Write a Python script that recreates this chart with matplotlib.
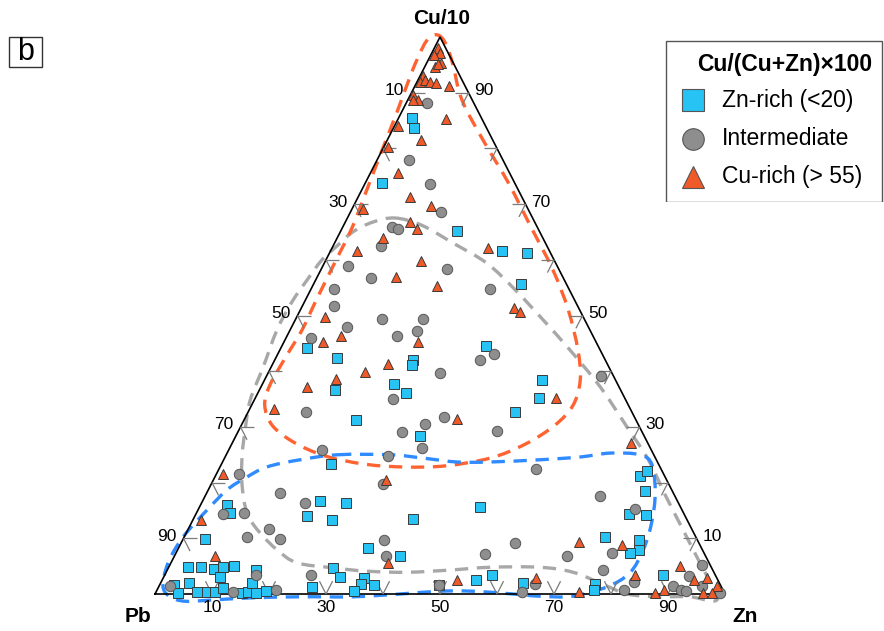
import numpy as np
import matplotlib
matplotlib.use("Agg")
import matplotlib.pyplot as plt
from matplotlib.path import Path
from matplotlib.patches import PathPatch, Rectangle
from matplotlib.collections import LineCollection

plt.rcParams['font.family'] = ['Liberation Sans', 'DejaVu Sans']

# ---------------------------------------------------------------
# Compositions in % : Cu/10 and Zn (Pb is the balance to 100 %)
# ---------------------------------------------------------------
znrich_cu = [85.5, 83.7, 73.8, 65.2, 61.5, 61.2, 55.6, 44.2, 42.3, 42.0,
             41.2, 44.5, 38.4, 35.2, 36.6, 37.7, 36.0, 31.2, 28.4, 32.6,
             23.3, 16.7, 16.3, 15.9, 14.5, 14.0, 13.2, 9.8, 4.8, 4.8,
             4.4, 4.9, 5.0, 3.1, 4.3, 4.6, 3.0, 1.6, 0.1, 2.0,
             0.4, 0.4, 0.4, 1.0, 0.2, 0.4, 1.9, 0.2, 0.6, 1.2,
             15.6, 13.4, 8.2, 6.9, 2.8, 1.8, 1.6, 0.6, 1.6, 2.6,
             3.4, 2.0, 21.2, 22.0, 18.5, 14.4, 14.1, 10.2, 9.7, 7.9,
             7.3, 3.4, 1.8, 0.8]
znrich_zn = [2.4, 3.6, 2.9, 20.3, 30.2, 34.6, 36.4, 4.5, 10.7, 24.2,
             24.4, 35.9, 48.7, 49.7, 13.3, 23.0, 26.0, 19.6, 32.3, 46.8,
             19.2, 20.6, 25.3, 4.7, 5.9, 19.6, 24.4, 3.9, 3.4, 5.7,
             8.1, 9.4, 11.4, 9.9, 15.6, 28.9, 30.9, 2.5, 4.0, 5.0,
             7.1, 9.0, 10.3, 11.4, 15.1, 16.2, 16.0, 17.7, 19.2, 26.9,
             49.2, 38.5, 33.3, 39.5, 35.3, 35.2, 37.7, 34.6, 49.1, 55.1,
             57.4, 63.5, 74.5, 75.3, 76.7, 76.0, 79.1, 73.9, 80.1, 81.0,
             79.6, 87.4, 76.3, 76.6]

inter_cu = [88.1, 77.9, 73.6, 68.5, 65.9, 65.5, 62.5, 58.8, 58.3, 56.7,
            54.8, 51.7, 49.3, 49.3, 47.9, 46.3, 47.2, 46.0, 39.6, 54.8,
            42.1, 43.0, 39.1, 35.0, 32.7, 29.1, 30.5, 26.2, 25.8, 24.8,
            31.8, 29.3, 21.5, 18.2, 16.4, 14.4, 14.6, 10.3, 11.6, 9.8,
            3.4, 3.4, 1.4, 0.4, 0.8, 22.4, 19.7, 9.7, 6.9, 9.1,
            7.1, 1.6, 1.8, 0.4, 17.6, 15.2, 6.8, 7.3, 4.3, 5.2,
            3.2, 1.5, 1.5, 0.7, 0.6, 0.7, 0.2, 2.2]
inter_zn = [3.6, 5.6, 11.5, 16.0, 8.6, 9.9, 8.4, 4.4, 22.0, 9.5,
            4.0, 5.6, 15.1, 22.4, 9.8, 19.3, 22.4, 4.4, 30.2, 31.3,
            35.9, 37.9, 58.7, 24.2, 10.1, 28.7, 32.1, 33.7, 16.4, 28.5,
            34.8, 45.3, 4.0, 12.8, 18.1, 4.7, 8.4, 11.0, 14.2, 17.0,
            16.1, 25.6, 1.9, 13.5, 20.8, 55.6, 30.2, 35.4, 37.1, 58.6,
            54.3, 49.1, 65.8, 64.1, 69.2, 76.6, 68.8, 76.6, 76.5, 93.4,
            92.1, 95.3, 90.2, 92.0, 92.8, 81.9, 99.0, 83.0]

curich_cu = [98.0, 97.1, 96.8, 95.3, 94.7, 95.2, 93.0, 92.0, 92.2, 92.0,
             91.7, 91.2, 89.6, 88.7, 88.7, 85.2, 84.0, 81.5, 80.2, 75.5,
             71.3, 69.7, 69.1, 66.8, 65.5, 63.9, 61.5, 59.7, 56.9, 55.3,
             49.8, 46.3, 45.2, 45.2, 41.3, 39.9, 38.6, 37.2, 33.3, 62.2,
             51.4, 50.7, 35.2, 31.4, 27.1, 21.5, 13.3, 6.9, 20.5, 5.6,
             2.6, 2.8, 9.4, 8.8, 5.1, 3.4, 2.6, 2.8, 1.5, 0.4,
             0.2, 0.8, 0.1, 0.2]
curich_zn = [0.6, 1.5, 0.6, 2.5, 1.8, 2.1, 0.5, 0.5, 1.2, 2.3,
             3.5, 6.0, 0.5, 1.8, 1.0, 8.5, 0.6, 5.9, 0.8, 4.8,
             9.0, 13.5, 2.0, 11.4, 13.2, 8.0, 4.7, 16.8, 13.8, 21.9,
             5.0, 9.4, 6.8, 23.5, 20.3, 16.9, 12.4, 8.1, 4.3, 27.4,
             37.3, 38.6, 52.7, 37.3, 70.0, 1.1, 1.4, 7.1, 30.3, 38.1,
             51.7, 65.4, 69.7, 77.5, 89.6, 82.5, 93.3, 95.4, 97.8, 74.1,
             87.6, 88.9, 96.1, 97.6]

# Hand-drawn compositional fields (closed outlines, Cu/10 and Zn in %)
curich_field_cu = [100.4, 99.1, 95.5, 88.7, 81.5, 74.0, 66.2, 58.2, 51.0, 43.8,
                   38.4, 33.9, 30.3, 26.9, 24.4, 23.0, 22.8, 23.3, 24.8, 27.3,
                   30.3, 33.9, 37.5, 42.9, 47.4, 52.8, 59.6, 65.7, 71.6, 78.8,
                   86.5, 93.7, 98.2, 99.8]
curich_field_zn = [-0.7, 1.3, 4.4, 9.5, 16.8, 24.9, 32.7, 40.7, 47.0, 52.3,
                   55.4, 56.4, 55.0, 51.5, 46.6, 39.4, 32.5, 25.2, 17.4, 10.6,
                   5.4, 2.3, 1.4, 1.7, 2.1, 1.9, 1.8, 1.7, 1.0, 0.1,
                   -0.8, -1.8, -2.1, -1.8]

znrich_field_cu = [25.0, 25.0, 24.4, 23.7, 23.7, 24.1, 24.6, 25.3, 25.0, 23.2,
                   18.1, 12.9, 7.9, 3.8, 1.3, -0.4, -0.4, 0.0, 0.5, 0.5,
                   0.0, -0.5, -0.5, -0.7, -1.1, -1.3, -0.5, 1.4, 5.6, 10.2,
                   15.1, 18.7, 20.8, 22.8, 24.1]
znrich_field_zn = [19.6, 28.8, 34.8, 41.1, 46.9, 55.5, 62.3, 67.2, 72.6, 75.6,
                   78.7, 80.7, 81.7, 81.4, 78.7, 73.5, 67.7, 62.8, 55.5, 49.7,
                   43.0, 35.0, 25.7, 17.0, 10.2, 5.9, 2.9, 0.7, -0.5, -0.2,
                   1.6, 3.3, 5.4, 8.2, 13.4]

inter_field_cu = [67.5, 66.2, 63.0, 59.4, 54.6, 49.2, 43.8, 37.2, 30.0, 24.1,
                  17.8, 11.5, 5.6, 1.6, -0.5, -1.3, -0.5, -0.5, 0.0, 1.6,
                  3.9, 4.8, 4.8, 4.3, 3.9, 4.1, 4.7, 5.6, 7.9, 11.0,
                  14.5, 19.9, 25.0, 29.4, 34.8, 40.8, 47.4, 52.4, 56.4, 60.0,
                  62.5, 65.0, 66.8]
inter_field_zn = [8.4, 13.7, 20.8, 28.5, 35.9, 43.5, 50.9, 59.5, 67.8, 74.5,
                  80.6, 86.9, 92.8, 96.9, 99.0, 98.4, 94.1, 88.3, 82.8, 78.1,
                  71.4, 65.1, 56.4, 49.6, 42.2, 35.1, 28.9, 22.1, 17.5, 12.9,
                  8.9, 5.3, 2.8, 1.1, -0.7, -1.4, -2.3, -2.2, -1.5, -0.7,
                  0.7, 2.2, 4.9]

tick_values = [10, 20, 30, 40, 50, 60, 70, 80, 90]
label_values = [10, 30, 50, 70, 90]

C_ZN = '#27C3F4'
C_INT = '#8E8E8E'
C_CU = '#F05A28'
C_EDGE = '#3A3A3A'
C_CU_LINE = '#FF6331'
C_ZN_LINE = '#2F8BFF'
C_INT_LINE = '#A8A8A8'


def to_xy(cu, zn):
    """Ternary (Cu/10, Zn) percentages -> plane coordinates (apex Cu/10 at top)."""
    cu = np.asarray(cu, float) / 100.0
    zn = np.asarray(zn, float) / 100.0
    return zn + cu / 2.0, cu


def closed_smooth_path(cu, zn):
    x, y = to_xy(cu, zn)
    P = np.column_stack([x, y])
    n = len(P)
    verts = [P[0]]
    codes = [Path.MOVETO]
    for i in range(n):
        p0, p1, p2, p3 = P[i - 1], P[i], P[(i + 1) % n], P[(i + 2) % n]
        verts += [p1 + (p2 - p0) / 6.0, p2 - (p3 - p1) / 6.0, p2]
        codes += [Path.CURVE4] * 3
    return Path(verts, codes)


fig = plt.figure(figsize=(8.84, 6.31), dpi=100)
ax = fig.add_axes([0, 0, 1, 1])
ax.set_xlim(-155 / 570, 729 / 570)
ax.set_ylim(-37 / 557, 594 / 557)
ax.axis('off')

# triangle frame
ax.plot([0, 1, 0.5, 0], [0, 0, 1, 0], color='black', lw=1.2,
        solid_joinstyle='miter', zorder=3)

# inward ticks on each side, parallel to the two other sides
L = 0.023
segs = []
for v in tick_values:
    t = v / 100.0
    # bottom side (Zn)
    bx, by = t, 0.0
    segs.append([(bx, by), (bx + L / 2, by + L)])
    segs.append([(bx, by), (bx - L / 2, by + L)])
    # left side (Pb)
    lx, ly = (1 - t) / 2.0, 1 - t
    segs.append([(lx, ly), (lx + L, ly)])
    segs.append([(lx, ly), (lx + L / 2, ly - L)])
    # right side (Cu/10)
    rx, ry = 1 - t / 2.0, t
    segs.append([(rx, ry), (rx - L, ry)])
    segs.append([(rx, ry), (rx - L / 2, ry - L)])
ax.add_collection(LineCollection(segs, colors='#7a7a7a', linewidths=0.9, zorder=3))

# tick labels
TFS = 12.5
for v in label_values:
    t = v / 100.0
    ax.annotate(str(v), xy=(t, 0), xytext=(0, -13), textcoords='offset pixels',
                ha='center', va='center', fontsize=TFS)
    ax.annotate(str(v), xy=((1 - t) / 2.0, 1 - t), xytext=(-7, 2),
                textcoords='offset pixels', ha='right', va='center', fontsize=TFS)
    ax.annotate(str(v), xy=(1 - t / 2.0, t), xytext=(6, 2),
                textcoords='offset pixels', ha='left', va='center', fontsize=TFS)

# apex labels
ax.annotate('Cu/10', xy=(0.5, 1), xytext=(2, 19), textcoords='offset pixels',
            ha='center', va='center', fontsize=15, fontweight='bold')
ax.annotate('Pb', xy=(0, 0), xytext=(-17, -22), textcoords='offset pixels',
            ha='center', va='center', fontsize=15, fontweight='bold')
ax.annotate('Zn', xy=(1, 0), xytext=(20, -22), textcoords='offset pixels',
            ha='center', va='center', fontsize=15, fontweight='bold')

# compositional fields
dash = (0, (4.0, 2.6))
for fcu, fzn, col in [(inter_field_cu, inter_field_zn, C_INT_LINE),
                      (curich_field_cu, curich_field_zn, C_CU_LINE),
                      (znrich_field_cu, znrich_field_zn, C_ZN_LINE)]:
    ax.add_patch(PathPatch(closed_smooth_path(fcu, fzn), fill=False, edgecolor=col,
                           lw=2.4, linestyle=dash, capstyle='butt', zorder=2))

# analyses
ms = 7.2
x, y = to_xy(znrich_cu, znrich_zn)
ax.plot(x, y, 's', ms=ms, mfc=C_ZN, mec=C_EDGE, mew=0.7, zorder=4)
x, y = to_xy(inter_cu, inter_zn)
ax.plot(x, y, 'o', ms=ms + 0.3, mfc=C_INT, mec='#555555', mew=0.7, zorder=4)
x, y = to_xy(curich_cu, curich_zn)
ax.plot(x, y, '^', ms=ms, mfc=C_CU, mec=C_EDGE, mew=0.7, zorder=4)

# legend panel
lax = fig.add_axes([665 / 884, 1 - 202 / 631, 219 / 884, 162 / 631])
lax.set_xlim(0, 219)
lax.set_ylim(162, 0)
lax.axis('off')
lax.add_patch(Rectangle((0.5, 0.5), 216.5, 161, fill=False, ec='#555555', lw=1.0))
lax.text(120, 25, 'Cu/(Cu+Zn)×100', ha='center', va='center',
         fontsize=16.5, fontweight='bold')
entries = [('s', C_ZN, 'Zn-rich (<20)'),
           ('o', C_INT, 'Intermediate'),
           ('^', C_CU, 'Cu-rich (> 55)')]
for i, (mk, col, lab) in enumerate(entries):
    yy = 60 + 38.5 * i
    lax.plot([28], [yy], mk, ms=15.5, mfc=col, mec='#555555', mew=0.8)
    lax.text(57, yy, lab, ha='left', va='center', fontsize=16.5)

# panel letter
fig.patches.append(Rectangle((9 / 884, 1 - 67 / 631), 33 / 884, 30 / 631,
                             transform=fig.transFigure, fill=False,
                             ec='#333333', lw=1.0))
fig.text(25.5 / 884, 1 - 52 / 631, 'b', ha='center', va='center', fontsize=22)

fig.savefig('out.png', dpi=100)
